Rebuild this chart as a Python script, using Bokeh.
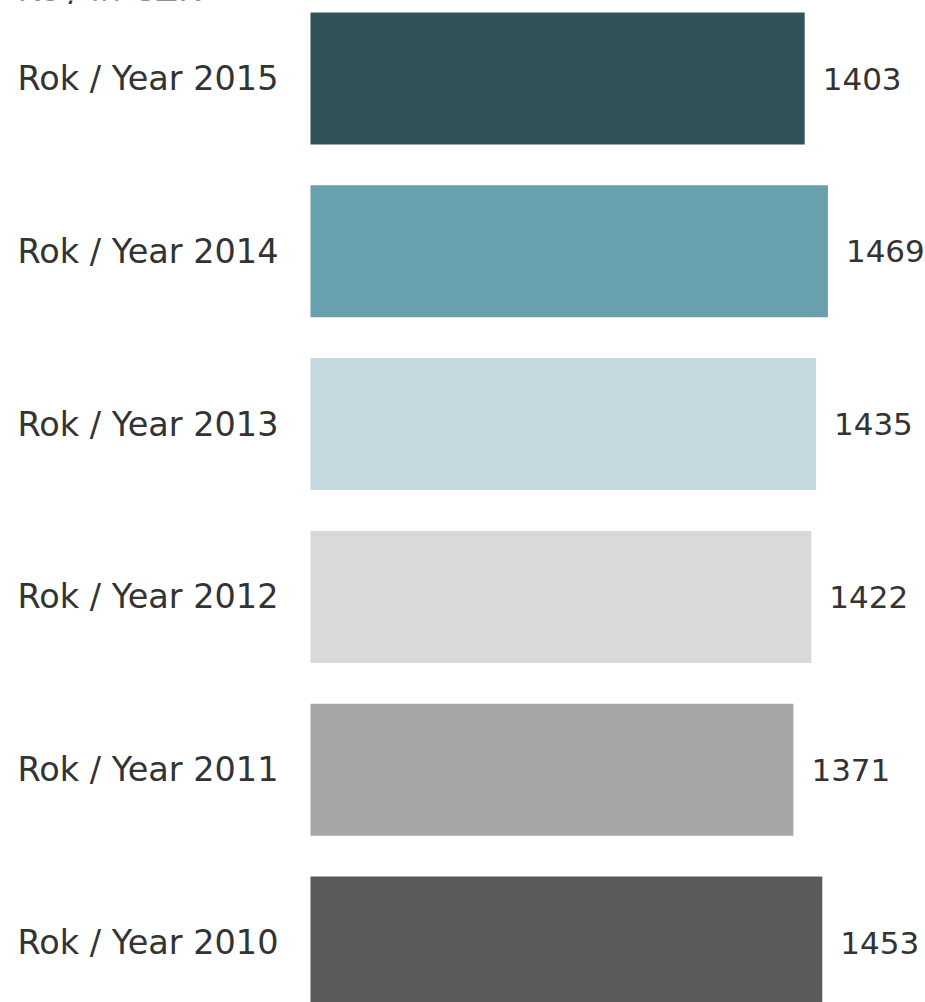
from bokeh.plotting import figure
from bokeh.models import ColumnDataSource, Range1d, Label
from bokeh.core.properties import value
from bokeh.embed import file_html
from bokeh.resources import INLINE

# ---- data ----
years = ["2010", "2011", "2012", "2013", "2014", "2015"]
labels = ["Rok / Year 2010", "Rok / Year 2011", "Rok / Year 2012",
          "Rok / Year 2013", "Rok / Year 2014", "Rok / Year 2015"]
values = [1453, 1371, 1422, 1435, 1469, 1403]
colors = ["#5a5a5a", "#a6a6a6", "#d9d9d9", "#c4dadf", "#69a0ad", "#32525a"]
unit_label = "Kč / in CZK"

FONT = "DejaVu Sans"
TXT = "#333333"

pos = list(range(len(years)))
src = ColumnDataSource(dict(y=pos, v=values, c=colors, t=[str(v) for v in values],
                            lab=labels, zero=[0] * len(years)))

p = figure(width=925, height=1002, output_backend="svg", toolbar_location=None,
           x_range=Range1d(-880, 1746), y_range=Range1d(-0.3472, 5.4514),
           min_border_left=0, min_border_right=0, min_border_top=0, min_border_bottom=0,
           x_axis_type=None, y_axis_type=None)
p.margin = (0, 0, 0, 0)
p.outline_line_color = None
p.grid.visible = False
p.background_fill_color = "white"
p.border_fill_color = "white"

p.hbar(y="y", left="zero", right="v", height=0.764, fill_color="c", line_color=None, source=src)
# value labels
p.text(x="v", y="y", text="t", x_offset=18, text_baseline="middle", text_align="left",
       text_font=value(FONT), text_font_size="31px", text_color=TXT, source=src)
# category labels
p.text(x="zero", y="y", text="lab", x_offset=-32, text_baseline="middle", text_align="right",
       text_font=value(FONT), text_font_size="33.5px", text_color=TXT, source=src)

p.add_layout(Label(x=17, y=1013, x_units="screen", y_units="screen", text=unit_label,
                   text_font=FONT, text_font_size="33.5px", text_color=TXT,
                   text_baseline="alphabetic"))

open("out.html", "w").write(file_html(p, INLINE))
